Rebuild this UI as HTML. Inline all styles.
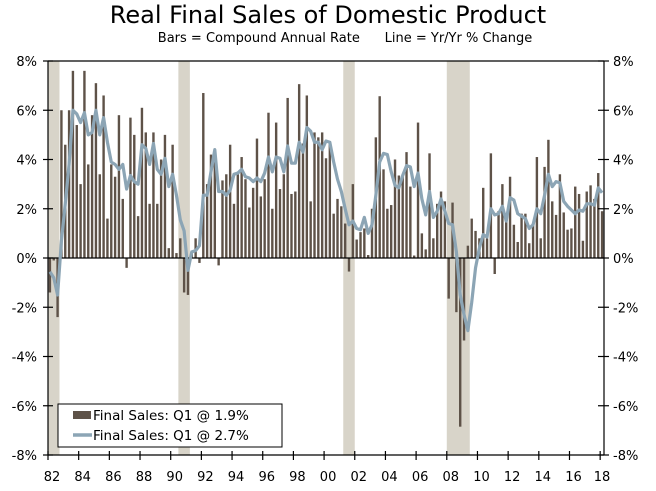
<!DOCTYPE html>
<html><head><meta charset="utf-8"><style>
body{margin:0;background:#fff;}
svg{display:block;font-family:"DejaVu Sans","Liberation Sans",sans-serif;}
</style></head><body>
<svg id="c" width="656" height="491">
<text x="328" y="23" text-anchor="middle" font-size="24" fill="#000">Real Final Sales of Domestic Product</text>
<text x="345" y="42" text-anchor="middle" font-size="13" fill="#000" xml:space="preserve">Bars = Compound Annual Rate      Line = Yr/Yr % Change</text>
<g id="rec"></g>
<g id="bars"></g>
<g id="axes"></g>
<path id="yoy" fill="none" stroke="#8ca5b5" stroke-width="3.2" stroke-linejoin="round"/>
<g>
<rect x="58" y="404" width="224" height="43" fill="#fff" stroke="#000" stroke-width="1"/>
<rect x="73" y="411" width="18" height="8" fill="#5e5248"/>
<text x="93" y="420" font-size="13.5">Final Sales: Q1 @ 1.9%</text>
<line x1="73" y1="435" x2="92" y2="435" stroke="#8ca5b5" stroke-width="3.5"/>
<text x="93" y="440" font-size="13.5">Final Sales: Q1 @ 2.7%</text>
</g>
</svg>
<script>
const bars=[-1.4,-0.1,-2.4,6.0,4.6,6.0,7.6,5.4,3.0,7.6,3.8,5.8,7.1,3.4,6.6,1.6,3.8,3.3,5.8,2.4,-0.4,5.7,5.0,1.7,6.1,5.1,2.2,5.1,2.2,4.0,5.0,0.4,4.6,0.2,0.8,-1.4,-1.5,
0.3,0.8,-0.2,6.7,3.0,4.2,4.45,-0.3,3.15,3.4,4.6,2.2,3.4,4.1,3.2,2.05,2.85,4.85,2.5,3.2,5.9,2.0,5.5,2.8,3.4,6.5,2.6,2.7,7.06,4.65,6.6,2.3,5.1,4.9,5.1,4.05,4.75,
1.8,2.4,2.1,1.4,-0.55,3.0,0.75,1.05,1.2,0.12,2.0,4.9,6.57,3.6,2.0,2.15,4.0,3.35,3.3,4.3,2.9,0.1,5.5,1.0,0.35,4.25,0.8,2.2,2.7,2.3,-1.65,2.25,-2.2,-6.85,-3.35,0.5,
1.6,1.1,0.8,2.85,0.8,4.25,-0.65,1.9,3.0,1.5,3.3,1.35,0.65,1.8,1.8,0.6,1.4,4.1,0.8,3.7,4.8,2.3,1.75,3.4,1.85,1.15,1.2,2.9,2.6,0.7,2.7,2.95,2.4,3.45,1.9];
const yoy=[-0.56,-0.8,-1.5,0.7,2.2,3.8,6.0,5.85,5.5,5.9,5.0,5.1,6.0,5.0,5.7,4.7,3.9,3.8,3.6,3.8,2.8,3.35,3.1,3.0,4.6,4.45,3.8,4.65,3.6,3.4,4.05,2.9,3.4,2.55,1.55,1.1,-0.5,
0.25,0.3,0.5,2.55,2.55,3.5,4.4,2.7,2.7,2.55,2.75,3.4,3.45,3.6,3.3,3.25,3.1,3.25,3.1,3.45,4.1,3.5,4.1,4.05,3.5,4.55,3.85,3.85,4.7,4.3,5.3,5.15,4.7,4.7,4.4,4.75,4.7,
3.9,3.2,2.7,2.0,1.35,1.5,1.2,1.15,1.65,1.0,1.35,2.55,3.9,4.25,4.2,3.5,2.95,2.85,3.35,3.75,3.7,2.9,3.45,2.4,1.75,2.7,1.65,1.9,2.4,1.9,1.4,1.35,0.25,-1.5,-2.3,-2.95,
-1.8,-0.4,0.4,0.95,0.85,2.0,1.75,1.8,2.1,1.5,2.45,2.35,1.8,1.7,1.6,1.2,1.35,2.0,1.8,2.55,3.4,2.9,3.1,3.05,2.3,2.1,1.95,1.8,1.95,1.9,2.2,2.2,2.15,2.85,2.65];
const recStart=[0,34,77,104];
const recEnd=[3,37,80,110];
const yTicks=[8,6,4,2,0,-2,-4,-6,-8];
const xLabels=["82","84","86","88","90","92","94","96","98","00","02","04","06","08","10","12","14","16","18"];

const NS="http://www.w3.org/2000/svg";
const X0=48,X1=604,N=145,QW=(X1-X0)/N;
const xq=i=>X0+i*QW;
const xc=i=>X0+(i+0.5)*QW;
const y=v=>258-v*24.625;
function mk(t,a,p){const e=document.createElementNS(NS,t);for(const k in a)e.setAttribute(k,a[k]);p.appendChild(e);return e;}

const rec=document.getElementById('rec');
recStart.forEach((s,k)=>{
  const r=mk('rect',{x:xq(s),y:y(8),width:xq(recEnd[k])-xq(s),height:y(-8)-y(8),fill:'#d8d4c9'},rec);
  
  
});
const bg=document.getElementById('bars');
bars.forEach((v,i)=>{
  const r=mk('rect',{x:xc(i)-1.2,y:Math.min(y(v),y(0)),width:2.4,height:Math.abs(y(v)-y(0)),fill:'#5e5248'},bg);
  
  
});
document.getElementById('yoy').setAttribute('d',yoy.map((v,i)=>(i?'L':'M')+xc(i).toFixed(2)+','+y(v).toFixed(2)).join(''));

const ax=document.getElementById('axes');
const st={stroke:'#000','stroke-width':1.2};
mk('line',Object.assign({x1:X0,y1:y(8),x2:X1,y2:y(8)},st),ax);
mk('line',Object.assign({x1:X0,y1:y(-8),x2:X1,y2:y(-8)},st),ax);
mk('line',Object.assign({x1:X0,y1:y(0),x2:X1,y2:y(0)},st),ax);
mk('line',Object.assign({x1:X0,y1:y(8),x2:X0,y2:y(-8)},st),ax);
mk('line',Object.assign({x1:X1,y1:y(8),x2:X1,y2:y(-8)},st),ax);
yTicks.forEach(v=>{
  mk('line',Object.assign({x1:X0-5,y1:y(v),x2:X0+5,y2:y(v)},st),ax);
  mk('line',Object.assign({x1:X1-6,y1:y(v),x2:X1+5,y2:y(v)},st),ax);
  const l=mk('text',{x:37,y:y(v)+5,'text-anchor':'end','font-size':13},ax);l.textContent=v+'%';
  
  
  const r=mk('text',{x:613,y:y(v)+5,'font-size':13},ax);r.textContent=v+'%';
  
  
});
xLabels.forEach((s,k)=>{
  const xx=xq(k*8);
  mk('line',Object.assign({x1:xx,y1:y(-8)-4,x2:xx,y2:y(-8)+5},st),ax);
  const t=mk('text',{x:Math.min(xx+4,602),y:481,'text-anchor':'middle','font-size':13},ax);t.textContent=s;
  
  
});
</script>
</body></html>
